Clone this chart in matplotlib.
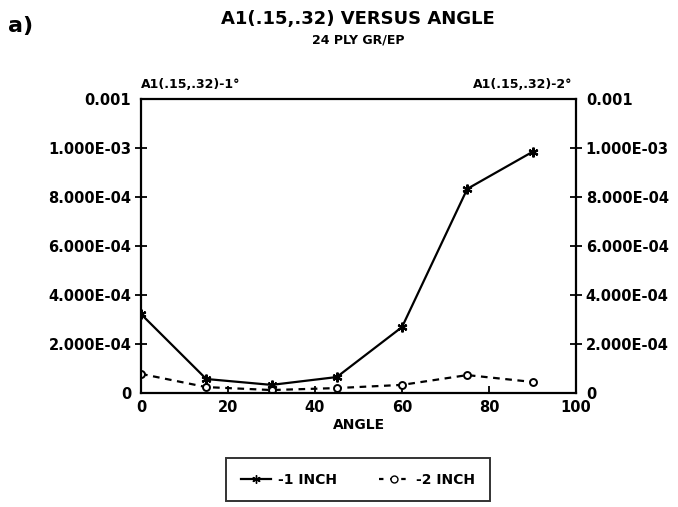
import matplotlib.pyplot as plt
from matplotlib.lines import Line2D

plt.rcParams['font.family'] = ['DejaVu Sans']
plt.rcParams['font.weight'] = 'bold'

angle = [0, 15, 30, 45, 60, 75, 90]
a1_1inch = [3.22e-4, 5.7e-5, 3.3e-5, 6.5e-5, 2.69e-4, 8.33e-4, 9.84e-4]
a1_2inch = [7.8e-5, 2.4e-5, 1.2e-5, 2.0e-5, 3.3e-5, 7.3e-5, 4.5e-5]

y_ticks = [0, 2e-4, 4e-4, 6e-4, 8e-4, 1e-3, 1.2e-3]
y_labels = ['0', '2.000E-04', '4.000E-04', '6.000E-04', '8.000E-04', '1.000E-03', '0.001']
x_ticks = [0, 20, 40, 60, 80, 100]

fig = plt.figure(figsize=(6.78, 5.07), dpi=100)
ax = fig.add_axes([0.208, 0.2249, 0.6416, 0.580])

ax.plot(angle, a1_1inch, color='black', linewidth=1.6, marker=(6, 2, 0),
        markersize=7, markeredgewidth=1.6)
ax.plot(angle, a1_2inch, color='black', linewidth=1.6, linestyle=(0, (3, 2.5)),
        marker='o', markersize=5, markerfacecolor='white', markeredgewidth=1.4)

ax.set_xlim(0, 100)
ax.set_ylim(0, y_ticks[-1])
ax.set_xticks(x_ticks)
ax.set_yticks(y_ticks)
ax.set_yticklabels(y_labels)
ax.tick_params(axis='both', direction='inout', length=8, width=1.3, labelsize=10.5)
ax.tick_params(axis='x', direction='in', length=5, pad=5)
ax.tick_params(axis='y', right=True, labelright=True, pad=3)
# no tick marks at the axis corners
for line in ax.get_yticklines()[:2] + ax.get_yticklines()[-2:]:
    line.set_visible(False)
for s in ax.spines.values():
    s.set_linewidth(1.6)

ax.set_xlabel('ANGLE', fontsize=10, fontweight='bold', labelpad=2)

fig.text(0.012, 0.949, 'a)', fontsize=16, fontweight='bold', va='center')
fig.text(0.528, 0.962, 'A1(.15,.32) VERSUS ANGLE', fontsize=13, fontweight='bold',
         ha='center', va='center')
fig.text(0.528, 0.922, '24 PLY GR/EP', fontsize=9, fontweight='bold',
         ha='center', va='center')
fig.text(0.208, 0.834, 'A1(.15,.32)-1°', fontsize=9, fontweight='bold',
         ha='left', va='center')
fig.text(0.844, 0.834, 'A1(.15,.32)-2°', fontsize=9, fontweight='bold',
         ha='right', va='center')

handles = [
    Line2D([], [], color='black', linewidth=1.6, marker=(6, 2, 0), markersize=6),
    Line2D([], [], color='black', linewidth=1.6, linestyle=(0, (2, 3)), marker='o',
           markersize=5, markerfacecolor='white'),
]
leg = fig.legend(handles, ['-1 INCH', '-2 INCH'], loc='center', ncol=2,
                 bbox_to_anchor=(0.528, 0.054), frameon=True, fancybox=False,
                 edgecolor='black', fontsize=10, handlelength=2.2,
                 columnspacing=3.0, borderpad=1.05, borderaxespad=0,
                 handletextpad=0.5)
leg.get_frame().set_linewidth(1.4)

plt.savefig('out.png', dpi=100)
